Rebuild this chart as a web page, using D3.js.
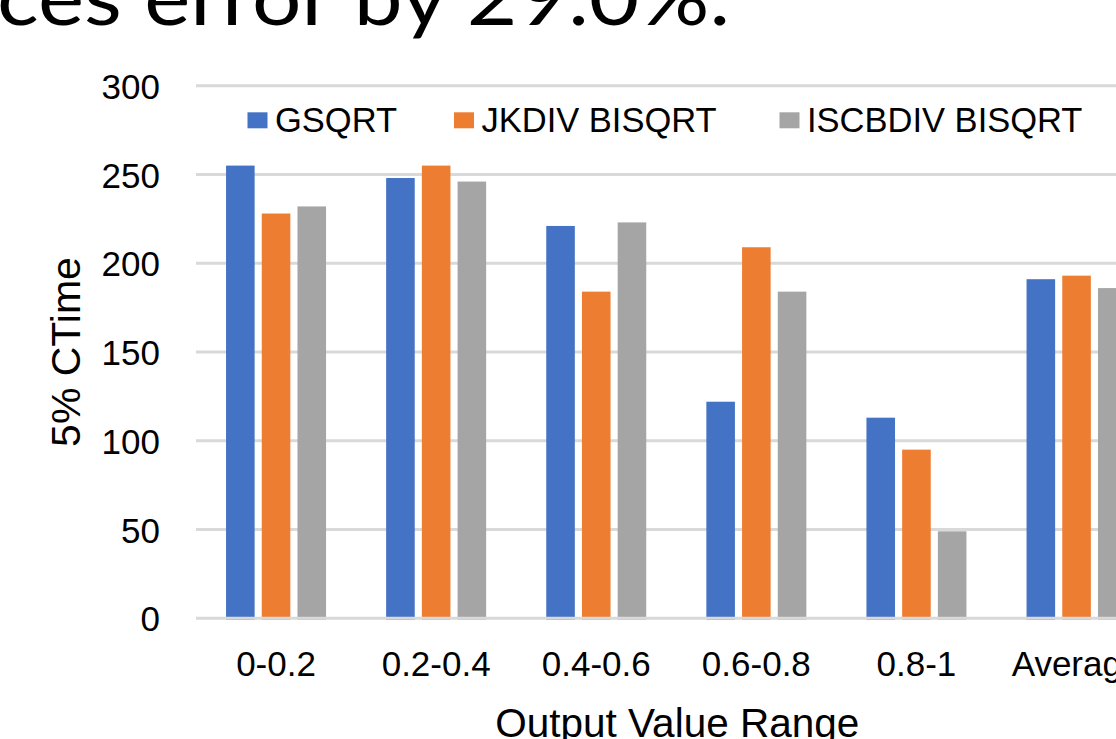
<!DOCTYPE html>
<html>
<head>
<meta charset="utf-8">
<script src="https://cdn.jsdelivr.net/npm/d3@7"></script>
<style>
  html, body { margin: 0; padding: 0; background: #ffffff; overflow: hidden; }
  svg { display: block; }
</style>
</head>
<body>
<svg id="chart" width="1116" height="739"></svg>
<script>
// ---- data ----
const categories = ["0-0.2", "0.2-0.4", "0.4-0.6", "0.6-0.8", "0.8-1", "Average"];
const seriesNames = ["GSQRT", "JKDIV BISQRT", "ISCBDIV BISQRT"];
const gsqrt   = [255, 248, 221, 122, 113, 191];
const jkdiv   = [228, 255, 184, 209, 95, 193];
const iscbdiv = [232, 246, 223, 184, 49, 186];
const yTicks = [0, 50, 100, 150, 200, 250, 300];
const seriesColors = ["#4472C4", "#ED7D31", "#A5A5A5"];
const titleText = "ces error by 29.0%.";
const xTitle = "Output Value Range";
const yTitle = "5% CTime";

const seriesValues = [gsqrt, jkdiv, iscbdiv];

// ---- layout ----
const svg = d3.select("#chart");
const plotLeft = 196, step = 160.1;
const plotRight = plotLeft + step * categories.length;
const y0 = 618.3, yTop = 85.7;

const x = d3.scaleBand().domain(categories).range([plotLeft, plotRight]).paddingInner(0).paddingOuter(0);
const groupW = 100;
const x1 = d3.scaleBand().domain(seriesNames)
  .range([(x.bandwidth() - groupW) / 2, (x.bandwidth() + groupW) / 2])
  .paddingInner(0.2).paddingOuter(0);
const y = d3.scaleLinear().domain([0, 300]).range([y0, yTop]);

const axisFont = "'Liberation Sans', Arial, Helvetica, sans-serif";

// title fragment (cropped at top)
svg.append("text")
  .attr("x", -3).attr("y", 25)
  .attr("font-family", "Lato, 'Open Sans', sans-serif")
  .attr("font-size", 78)
  .attr("textLength", 733)
  .attr("lengthAdjust", "spacingAndGlyphs")
  .attr("fill", "#000")
  .text(titleText);

// gridlines (non-zero)
svg.append("g").selectAll("line")
  .data(yTicks.filter(d => d !== 0))
  .join("line")
  .attr("x1", plotLeft).attr("x2", plotRight)
  .attr("y1", d => y(d)).attr("y2", d => y(d))
  .attr("stroke", "#d9d9d9").attr("stroke-width", 3);

// bars
const groups = svg.append("g").selectAll("g")
  .data(categories)
  .join("g")
  .attr("transform", d => `translate(${x(d)},0)`);

groups.selectAll("rect")
  .data((c, i) => seriesNames.map((s, k) => ({ s, k, v: seriesValues[k][i] })))
  .join("rect")
  .attr("x", d => x1(d.s))
  .attr("width", x1.bandwidth())
  .attr("y", d => y(d.v))
  .attr("height", d => y(0) - y(d.v) + 1.5)
  .attr("fill", d => seriesColors[d.k]);

// zero axis line
svg.append("line")
  .attr("x1", plotLeft).attr("x2", plotRight)
  .attr("y1", y(0)).attr("y2", y(0))
  .attr("stroke", "#d9d9d9").attr("stroke-width", 3);

// y tick labels
const yAxis = d3.axisLeft(y).tickValues(yTicks).tickSize(0).tickPadding(0);
const yg = svg.append("g").attr("transform", "translate(160,0)").call(yAxis);
yg.select(".domain").remove();
yg.selectAll("text")
  .attr("font-family", axisFont).attr("font-size", 35).attr("fill", "#000")
  .attr("dy", "0.36em");

// x tick labels
const xAxis = d3.axisBottom(x).tickSize(0).tickPadding(0);
const xg = svg.append("g").attr("transform", `translate(0,${y0})`).call(xAxis);
xg.select(".domain").remove();
xg.selectAll("text")
  .attr("font-family", axisFont).attr("font-size", 35).attr("fill", "#000")
  .attr("y", 58).attr("dy", 0);

// axis titles
svg.append("text")
  .attr("x", (plotLeft + plotRight) / 2 + 1).attr("y", 737)
  .attr("text-anchor", "middle")
  .attr("font-family", axisFont).attr("font-size", 40.5).attr("fill", "#000")
  .text(xTitle);

svg.append("text")
  .attr("transform", `translate(80,${(y0 + yTop) / 2}) rotate(-90)`)
  .attr("text-anchor", "middle")
  .attr("font-family", axisFont).attr("font-size", 41).attr("fill", "#000")
  .text(yTitle);

// legend
const legendX = [247.5, 454, 779.5];
const legend = svg.append("g").selectAll("g")
  .data(seriesNames)
  .join("g")
  .attr("transform", (d, i) => `translate(${legendX[i]},0)`);
legend.append("rect")
  .attr("x", 0).attr("y", 112.3).attr("width", 20).attr("height", 16)
  .attr("fill", (d, i) => seriesColors[i]);
legend.append("text")
  .attr("x", 27.5).attr("y", 132.3)
  .attr("font-family", axisFont).attr("font-size", 34.5).attr("fill", "#000")
  .text(d => d);
</script>
</body>
</html>
